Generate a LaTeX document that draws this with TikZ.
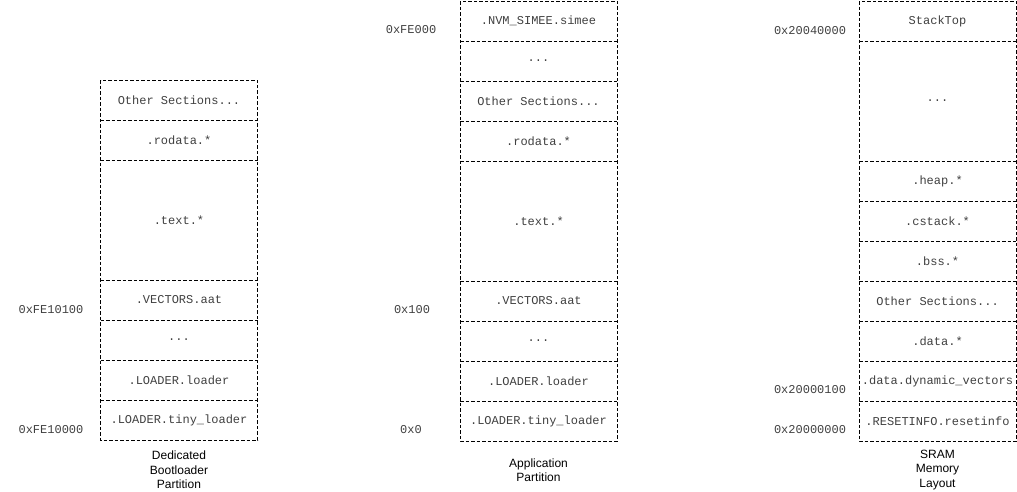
\documentclass[tikz,border=0pt]{standalone}
\usepackage{fontspec}
\setmainfont{Liberation Sans}
\setmonofont{Liberation Mono}
\usetikzlibrary{positioning}

\tikzset{
  sect/.style={minimum width=157pt, minimum height=40pt, inner sep=0pt, outer sep=0pt,
    text=black!75, font=\ttfamily\fontsize{12}{14}\selectfont},
  sepline/.style={dashed, dash pattern=on 3.5pt off 2pt, line width=0.9pt},
  addr/.style={text=black!75, font=\ttfamily\fontsize{12}{14}\selectfont},
  caption/.style={align=center, font=\fontsize{12}{14.5}\selectfont}
}

\begin{document}
\begin{tikzpicture}[x=1pt, y=-1pt]
    \useasboundingbox (0,0) rectangle (1017,491);

    % dedicated bootloader partition
    \node[sect, anchor=north] (b1) at (179,80) {Other Sections...};
    \node[sect, below=0pt of b1] (b2) {.rodata.*};
    \node[sect, below=0pt of b2, minimum height=120pt] (b3) {.text.*};
    \node[sect, below=0pt of b3] (b4) {.VECTORS.aat};
    \node[sect, below=0pt of b4] (b5) {...};
    \node[sect, below=0pt of b5] (b6) {.LOADER.loader};
    \node[sect, below=0pt of b6] (b7) {.LOADER.tiny\_loader};
    \draw[sepline] (b1.north west) rectangle (b7.south east);
    \foreach \n in {b1,b2,b3,b4,b5,b6}
        \draw[sepline] (\n.south west) -- (\n.south east);
    \node[addr] (bhi) at (51,310) {0xFE10100};
    \node[addr] (blo) at (51,430) {0xFE10000};
    \node[caption] (bcap) at (179,470) {Dedicated\\Bootloader\\Partition};

    % application partition
    \node[sect, anchor=north] (a1) at (538.5,1) {.NVM\_SIMEE.simee};
    \node[sect, below=0pt of a1] (a2) {...};
    \node[sect, below=0pt of a2] (a3) {Other Sections...};
    \node[sect, below=0pt of a3] (a4) {.rodata.*};
    \node[sect, below=0pt of a4, minimum height=120pt] (a5) {.text.*};
    \node[sect, below=0pt of a5] (a6) {.VECTORS.aat};
    \node[sect, below=0pt of a6] (a7) {...};
    \node[sect, below=0pt of a7] (a8) {.LOADER.loader};
    \node[sect, below=0pt of a8] (a9) {.LOADER.tiny\_loader};
    \draw[sepline] (a1.north west) rectangle (a9.south east);
    \foreach \n in {a1,a2,a3,a4,a5,a6,a7,a8}
        \draw[sepline] (\n.south west) -- (\n.south east);
    \node[addr] (atop) at (411,30) {0xFE000};
    \node[addr] (ahi) at (412,310) {0x100};
    \node[addr] (alo) at (411,430) {0x0};
    \node[caption] (acap) at (538.5,470) {Application\\Partition};

    % sram memory layout
    \node[sect, anchor=north] (s1) at (937.5,1) {StackTop};
    \node[sect, below=0pt of s1, minimum height=120pt] (s2) {...};
    \node[sect, below=0pt of s2] (s3) {.heap.*};
    \node[sect, below=0pt of s3] (s4) {.cstack.*};
    \node[sect, below=0pt of s4] (s5) {.bss.*};
    \node[sect, below=0pt of s5] (s6) {Other Sections...};
    \node[sect, below=0pt of s6] (s7) {.data.*};
    \node[sect, below=0pt of s7] (s8) {.data.dynamic\_vectors};
    \node[sect, below=0pt of s8] (s9) {.RESETINFO.resetinfo};
    \draw[sepline] (s1.north west) rectangle (s9.south east);
    \foreach \n in {s1,s2,s3,s4,s5,s6,s7,s8}
        \draw[sepline] (\n.south west) -- (\n.south east);
    \node[addr] (stop) at (810,31) {0x20040000};
    \node[addr] (shi) at (810,390) {0x20000100};
    \node[addr] (slo) at (810,430) {0x20000000};
    \node[caption] (scap) at (937.5,470) {SRAM\\Memory\\Layout};
\end{tikzpicture}
\end{document}
